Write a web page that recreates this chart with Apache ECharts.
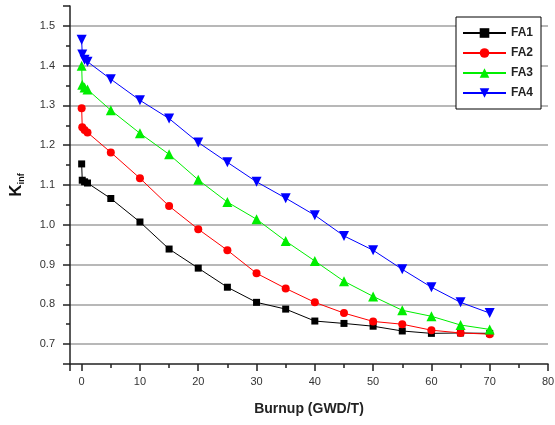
<!DOCTYPE html>
<html>
<head>
<meta charset="utf-8">
<script src="https://cdn.jsdelivr.net/npm/echarts@6/dist/echarts.min.js"></script>
<style>
  html, body { margin: 0; padding: 0; background: #fff; }
  #chart { width: 555px; height: 425px; }
</style>
</head>
<body>
<div id="chart"></div>
<script>
// burnup steps (GWD/T)
const burnup = [0, 0.1, 0.5, 1, 5, 10, 15, 20, 25, 30, 35, 40, 45, 50, 55, 60, 65, 70]
const fa1 = [1.153, 1.112, 1.108, 1.105, 1.066, 1.007, 0.939, 0.891, 0.843, 0.805, 0.788, 0.758, 0.752, 0.745, 0.733, 0.727, 0.728, 0.727]
const fa2 = [1.293, 1.245, 1.238, 1.232, 1.182, 1.117, 1.047, 0.989, 0.936, 0.878, 0.840, 0.805, 0.778, 0.757, 0.750, 0.735, 0.728, 0.725]
const fa3 = [1.400, 1.352, 1.345, 1.340, 1.288, 1.230, 1.177, 1.113, 1.057, 1.014, 0.959, 0.909, 0.858, 0.820, 0.785, 0.770, 0.748, 0.737]
const fa4 = [1.465, 1.428, 1.415, 1.410, 1.366, 1.313, 1.267, 1.207, 1.157, 1.108, 1.067, 1.024, 0.972, 0.936, 0.888, 0.843, 0.805, 0.778]
const xTicks = [0, 10, 20, 30, 40, 50, 60, 70, 80]
const yTicks = [0.7, 0.8, 0.9, 1.0, 1.1, 1.2, 1.3, 1.4, 1.5]

const font = 'Arial, "Liberation Sans", sans-serif'
const onTick = (list, v) => list.some((t) => Math.abs(t - v) < 1e-6)

const pairs = (ys) => burnup.map((x, i) => [x, ys[i]])

const mkSeries = (name, ys, color, symbol, size, rotate) => ({
    name,
    type: 'line',
    data: pairs(ys),
    symbol,
    symbolSize: size,
    symbolRotate: rotate || 0,
    clip: false,
    lineStyle: { color, width: 1 },
    itemStyle: { color },
})

const chart = echarts.init(document.getElementById('chart'))
chart.setOption({
    animation: false,
    backgroundColor: '#fff',
    grid: { left: 70, right: 7, top: 6, bottom: 61, outerBoundsMode: 'none' },
    legend: {
        orient: 'vertical',
        left: 456,
        top: 17,
        padding: [9, 8, 9, 6],
        itemWidth: 43,
        itemHeight: 12,
        itemGap: 6,
        borderColor: '#000',
        borderWidth: 1,
        backgroundColor: '#fff',
        textStyle: { fontFamily: font, fontSize: 12, fontWeight: 'bold', color: '#222', lineHeight: 14 },
        data: ['FA1', 'FA2', 'FA3', 'FA4'],
    },
    xAxis: {
        type: 'value',
        min: -2,
        max: 80,
        splitNumber: 8,
        name: 'Burnup (GWD/T)',
        nameLocation: 'middle',
        nameGap: 38,
        nameTextStyle: { fontFamily: font, fontSize: 14, fontWeight: 'bold', color: '#222' },
        axisLine: { lineStyle: { color: '#222', width: 1.5 } },
        axisTick: { length: 7, lineStyle: { color: '#222', width: 1.5 } },
        minorTick: { show: true, splitNumber: 2, length: 4, lineStyle: { color: '#222', width: 1.5 } },
        axisLabel: {
            margin: 12,
            fontFamily: font,
            fontSize: 11,
            color: '#333',
            formatter: (v) => (onTick(xTicks, v) ? String(v) : ''),
        },
        splitLine: { show: false },
    },
    yAxis: {
        type: 'value',
        min: 0.65,
        max: 1.55,
        splitNumber: 9,
        name: '{k|K}{s|inf}',
        nameLocation: 'middle',
        nameRotate: 90,
        nameGap: 44,
        nameTextStyle: {
            rich: {
                k: { fontFamily: font, fontSize: 17, fontWeight: 'bold', color: '#111', lineHeight: 20 },
                s: { fontFamily: font, fontSize: 9, fontWeight: 'bold', color: '#111', lineHeight: 20, verticalAlign: 'bottom', padding: [8, 0, 0, 0] },
            },
        },
        axisLine: { show: true, onZero: false, lineStyle: { color: '#222', width: 1.5 } },
        axisTick: { show: true, length: 7, lineStyle: { color: '#222', width: 1.5 } },
        minorTick: { show: true, splitNumber: 2, length: 4, lineStyle: { color: '#222', width: 1.5 } },
        axisLabel: {
            margin: 15,
            fontFamily: font,
            fontSize: 11,
            color: '#333',
            formatter: (v) => (onTick(yTicks, v) ? v.toFixed(1) : ''),
        },
        splitLine: {
            show: true,
            lineStyle: {
                color: ['transparent', '#a0a0a0', '#a0a0a0', '#a0a0a0', '#a0a0a0', '#a0a0a0', '#a0a0a0', '#a0a0a0', '#a0a0a0', '#a0a0a0', 'transparent'],
                width: 1.5,
            },
        },
    },
    series: [
        mkSeries('FA1', fa1, '#000000', 'rect', 7),
        mkSeries('FA2', fa2, '#ff0000', 'circle', 8),
        mkSeries('FA3', fa3, '#00ee00', 'triangle', 10),
        mkSeries('FA4', fa4, '#0000ff', 'triangle', 10, 180),
    ],
})
</script>
</body>
</html>
